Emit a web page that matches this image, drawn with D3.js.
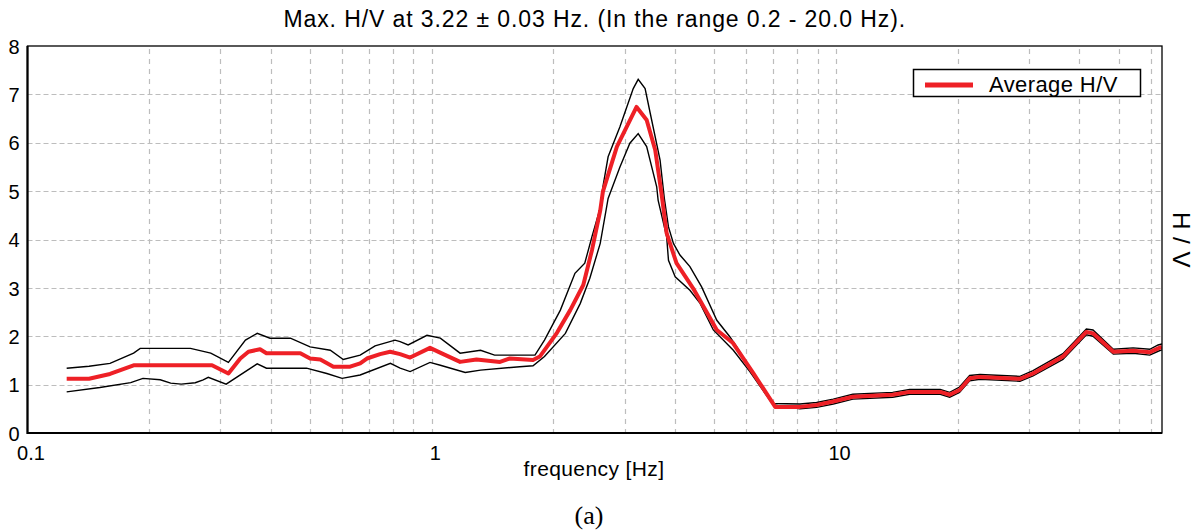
<!DOCTYPE html>
<html>
<head>
<meta charset="utf-8">
<script src="https://cdn.jsdelivr.net/npm/d3@7"></script>
<style>
  html, body { margin: 0; padding: 0; background: #ffffff; }
  svg { display: block; }
  text { font-family: "Liberation Sans", Arial, sans-serif; fill: #000; }
</style>
</head>
<body>
<svg id="chart" width="1202" height="531"></svg>
<script>
// ---- Data ----
const titleText = "Max. H/V at 3.22 \u00B1 0.03 Hz. (In the range 0.2 - 20.0 Hz).";
const xLabel = "frequency [Hz]";
const yLabel = "H / V";
const legendLabel = "Average H/V";
const captionText = "(a)";

const yTicks = [0, 1, 2, 3, 4, 5, 6, 7, 8];
const xTickLabels = [0.1, 1, 10];
const xGrid = [0.2,0.3,0.4,0.5,0.6,0.7,0.8,0.9,1,2,3,4,5,6,7,8,9,10,20,30,40,50,60];

// Average H/V (red)
const avgFreq = [0.125,0.142,0.160,0.183,0.286,0.314,0.336,0.352,0.376,0.39,0.473,0.50,0.53,0.571,0.628,0.665,0.691,0.745,0.789,0.835,0.884,0.99,1.068,1.175,1.29,1.475,1.56,1.78,1.85,2.04,2.20,2.37,2.49,2.61,2.65,2.87,3.21,3.40,3.57,3.70,3.81,4.03,4.43,5.07,5.56,6.24,7.07,8.14,8.95,9.84,11.0,13.8,15.2,18.1,19.1,20.2,21.4,22.7,28.5,30.7,36.4,41.6,43.2,48.5,54.3,59.7,62.6,64];
const avgHV   = [1.12,1.12,1.22,1.40,1.40,1.23,1.54,1.68,1.73,1.65,1.65,1.54,1.52,1.37,1.37,1.44,1.54,1.63,1.68,1.63,1.56,1.76,1.63,1.47,1.52,1.47,1.54,1.51,1.58,2.07,2.54,3.06,3.78,4.60,4.99,5.92,6.74,6.47,5.85,4.95,4.13,3.51,2.99,2.13,1.86,1.24,0.54,0.54,0.58,0.65,0.75,0.79,0.85,0.85,0.79,0.89,1.13,1.16,1.12,1.23,1.58,2.09,2.06,1.68,1.70,1.67,1.75,1.78];

// Upper bound (black)
const upFreq = [0.125,0.142,0.160,0.183,0.190,0.253,0.284,0.314,0.346,0.370,0.398,0.447,0.50,0.561,0.604,0.665,0.724,0.811,0.835,0.874,0.973,1.05,1.175,1.32,1.43,1.80,1.90,2.08,2.26,2.39,2.49,2.61,2.65,2.73,2.92,3.15,3.24,3.37,3.47,3.67,3.76,3.85,3.96,4.11,4.35,4.65,5.07,5.46,5.68,6.24,6.99,8.14,8.95,9.84,11.0,13.8,15.2,18.1,19.1,20.2,21.4,22.7,28.5,30.7,36.4,41.6,43.2,48.5,54.3,59.7,62.6,64];
const upHV   = [1.34,1.38,1.44,1.65,1.75,1.75,1.65,1.46,1.92,2.06,1.96,1.96,1.78,1.71,1.52,1.61,1.80,1.92,1.89,1.82,2.02,1.96,1.65,1.71,1.61,1.61,1.92,2.54,3.30,3.51,4.06,4.65,5.09,5.71,6.33,7.12,7.31,7.12,6.61,5.64,4.85,4.26,3.92,3.68,3.44,3.02,2.33,1.99,1.78,1.23,0.61,0.60,0.63,0.70,0.80,0.84,0.90,0.90,0.84,0.95,1.19,1.21,1.17,1.29,1.64,2.15,2.13,1.73,1.76,1.73,1.82,1.84];

// Lower bound (black)
const lowFreq = [0.125,0.151,0.180,0.193,0.213,0.226,0.240,0.26,0.272,0.28,0.31,0.37,0.39,0.49,0.55,0.60,0.665,0.79,0.835,0.884,0.99,1.05,1.21,1.32,1.65,1.78,1.90,2.14,2.33,2.46,2.61,2.73,2.92,3.09,3.24,3.40,3.60,3.63,3.81,3.85,4.00,4.35,4.61,4.97,5.57,6.12,6.99,8.14,8.95,9.84,11.0,13.8,15.2,18.1,19.1,20.2,21.4,22.7,28.5,30.7,36.4,41.6,43.2,48.5,54.3,59.7,62.6,64];
const lowHV   = [0.85,0.94,1.04,1.13,1.10,1.03,1.01,1.04,1.10,1.15,1.01,1.43,1.34,1.34,1.23,1.13,1.20,1.44,1.34,1.27,1.46,1.40,1.25,1.30,1.37,1.39,1.58,2.06,2.68,3.20,3.92,4.85,5.50,5.99,6.19,5.92,5.09,4.81,4.06,3.57,3.23,2.95,2.68,2.13,1.71,1.27,0.58,0.50,0.53,0.60,0.70,0.74,0.80,0.80,0.74,0.84,1.08,1.11,1.07,1.18,1.52,2.03,2.00,1.63,1.65,1.61,1.69,1.72];

// ---- Drawing ----
const svg = d3.select("#chart");
const plot = { left: 27.5, right: 1162, top: 46, bottom: 433 };

const x = d3.scaleLog().domain([0.1, 64]).range([plot.left, plot.right]);
const y = d3.scaleLinear().domain([0, 8]).range([plot.bottom, plot.top]);

svg.append("rect").attr("width", 1202).attr("height", 531).attr("fill", "#fff");

svg.append("defs").append("clipPath").attr("id", "clip")
  .append("rect")
  .attr("x", plot.left).attr("y", plot.top)
  .attr("width", plot.right - plot.left).attr("height", plot.bottom - plot.top);

// Grid lines
const gridColor = "#bdbdbd";
const gGrid = svg.append("g");
gGrid.selectAll("line.v").data(xGrid).enter().append("line")
  .attr("x1", d => Math.round(x(d)) + 0.5).attr("x2", d => Math.round(x(d)) + 0.5)
  .attr("y1", plot.top).attr("y2", plot.bottom)
  .attr("stroke", gridColor).attr("stroke-width", 1.2)
  .attr("stroke-dasharray", "5,5").attr("stroke-dashoffset", -3);
gGrid.selectAll("line.h").data(yTicks.filter(d => d > 0 && d < 8)).enter().append("line")
  .attr("x1", plot.left).attr("x2", plot.right)
  .attr("y1", d => Math.round(y(d)) + 0.5).attr("y2", d => Math.round(y(d)) + 0.5)
  .attr("stroke", gridColor).attr("stroke-width", 1.2)
  .attr("stroke-dasharray", "5,3");

// Curves
const line = d3.line().x(d => x(d[0])).y(d => y(d[1]));
const gCurves = svg.append("g").attr("clip-path", "url(#clip)");
gCurves.append("path").datum(d3.zip(upFreq, upHV))
  .attr("d", line).attr("fill", "none").attr("stroke", "#000").attr("stroke-width", 1.4);
gCurves.append("path").datum(d3.zip(lowFreq, lowHV))
  .attr("d", line).attr("fill", "none").attr("stroke", "#000").attr("stroke-width", 1.4);
gCurves.append("path").datum(d3.zip(avgFreq, avgHV))
  .attr("d", line).attr("fill", "none").attr("stroke", "#ee2026").attr("stroke-width", 4)
  .attr("stroke-linejoin", "round");

// Frame
svg.append("rect")
  .attr("x", plot.left).attr("y", plot.top)
  .attr("width", plot.right - plot.left).attr("height", plot.bottom - plot.top)
  .attr("fill", "none").attr("stroke", "#000").attr("stroke-width", 1.3);
svg.append("line").attr("x1", plot.left).attr("x2", plot.left)
  .attr("y1", plot.top).attr("y2", plot.bottom + 1)
  .attr("stroke", "#000").attr("stroke-width", 2.2);
svg.append("line").attr("x1", plot.left).attr("x2", plot.right)
  .attr("y1", plot.bottom).attr("y2", plot.bottom)
  .attr("stroke", "#000").attr("stroke-width", 2.2);

// Y axis labels
const yAxis = d3.axisLeft(y).tickValues(yTicks).tickSize(0).tickPadding(0).tickFormat(d3.format("d"));
const gy = svg.append("g").attr("transform", `translate(${plot.left - 8},0)`).call(yAxis);
gy.select(".domain").remove();
gy.selectAll("text").attr("font-size", 20).attr("fill", "#000")
  .attr("font-family", "Liberation Sans, Arial, sans-serif").attr("dy", "0.36em");

// X axis labels
const xAxis = d3.axisBottom(x).tickValues(xTickLabels).tickSize(0).tickPadding(0)
  .tickFormat(d => String(d));
const gx = svg.append("g").attr("transform", `translate(3,${plot.bottom + 27})`).call(xAxis);
gx.select(".domain").remove();
gx.selectAll("text").attr("font-size", 20).attr("fill", "#000")
  .attr("font-family", "Liberation Sans, Arial, sans-serif").attr("dy", 0);

// Title
svg.append("text").attr("x", (plot.left + plot.right) / 2).attr("y", 27)
  .attr("text-anchor", "middle").attr("font-size", 23).attr("letter-spacing", 0.9)
  .text(titleText);

// X label
svg.append("text").attr("x", 594).attr("y", 476)
  .attr("text-anchor", "middle").attr("font-size", 21).attr("letter-spacing", 0.4)
  .text(xLabel);

// Y label (right side, rotated)
svg.append("text").attr("transform", "translate(1173,240) rotate(90)")
  .attr("text-anchor", "middle").attr("font-size", 24).attr("letter-spacing", 0.5)
  .text(yLabel);

// Caption
svg.append("text").attr("x", 589).attr("y", 524)
  .attr("text-anchor", "middle").attr("font-size", 26)
  .style("font-family", "'Liberation Serif', 'Times New Roman', serif")
  .text(captionText);

// Legend
const lg = svg.append("g");
lg.append("rect").attr("x", 913.5).attr("y", 69.5).attr("width", 227).attr("height", 27)
  .attr("fill", "#fff").attr("stroke", "#000").attr("stroke-width", 1.5);
lg.append("line").attr("x1", 925).attr("x2", 973).attr("y1", 85).attr("y2", 85)
  .attr("stroke", "#ee2026").attr("stroke-width", 5);
lg.append("text").attr("x", 989).attr("y", 92).attr("font-size", 22).attr("letter-spacing", 0.4)
  .text(legendLabel);
</script>
</body>
</html>
